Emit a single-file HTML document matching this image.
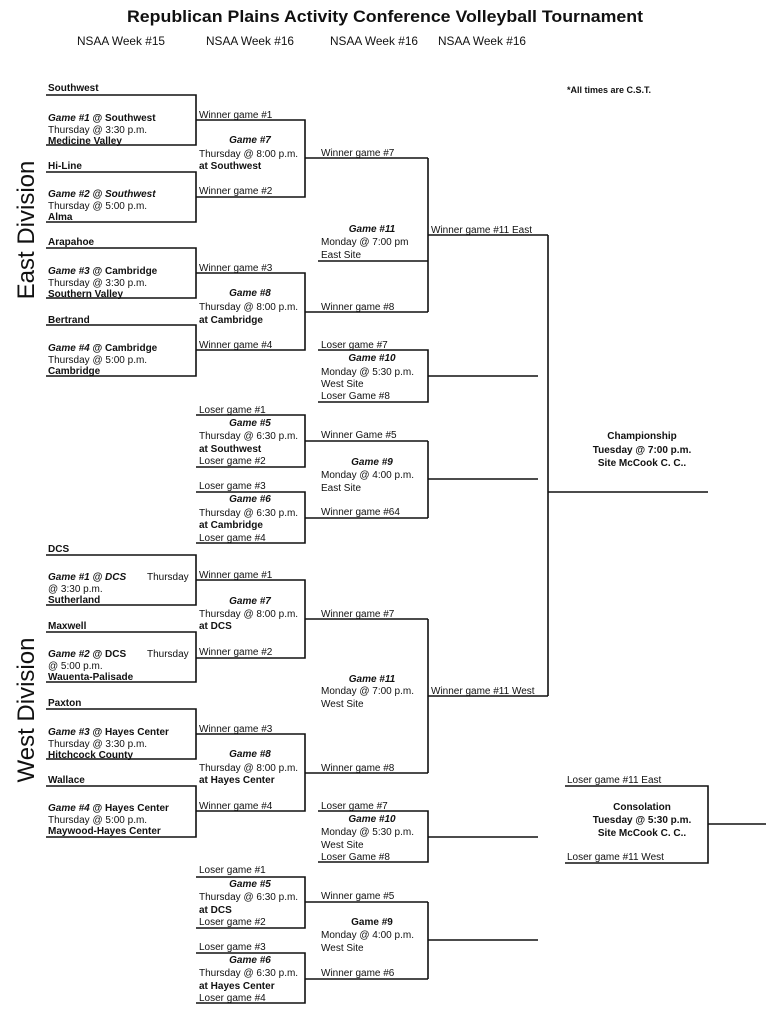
<!DOCTYPE html>
<html><head><meta charset="utf-8"><style>
html,body{margin:0;padding:0;background:#fff;}
svg{display:block;}
text{font-family:"Liberation Sans",Arial,sans-serif;font-size:10px;fill:#111;}
.b{font-weight:bold;}
.bi{font-weight:bold;font-style:italic;}
.c{text-anchor:middle;}
</style></head><body>
<svg width="776" height="1024" viewBox="0 0 776 1024" xmlns="http://www.w3.org/2000/svg">
<g fill="none" stroke="#111" stroke-width="1.6">
<!-- East -->
<path d="M46 95 H196 V145 H46"/>
<path d="M46 172 H196 V222 H46"/>
<path d="M46 248 H196 V298 H46"/>
<path d="M46 325 H196 V376 H46"/>
<path d="M196 120 H305 V197 H196 M305 158 H428"/>
<path d="M196 273 H305 V350 H196 M305 312 H428"/>
<path d="M428 158 V312 M318 261 H428 M428 235 H548"/>
<path d="M318 350 H428 V402 H318 M428 376 H538"/>
<path d="M196 415 H305 V467 H196 M305 441 H428"/>
<path d="M196 492 H305 V543 H196 M305 518 H428 M428 441 V518 M428 479 H538"/>
<path d="M548 235 V696 M548 492 H708"/>
<!-- West -->
<path d="M46 555 H196 V605 H46"/>
<path d="M46 632 H196 V682 H46"/>
<path d="M46 709 H196 V759 H46"/>
<path d="M46 786 H196 V837 H46"/>
<path d="M196 580 H305 V658 H196 M305 619 H428"/>
<path d="M196 734 H305 V811 H196 M305 773 H428"/>
<path d="M428 619 V773 M428 696 H548"/>
<path d="M318 811 H428 V862 H318 M428 837 H538"/>
<path d="M196 877 H305 V928 H196 M305 902 H428"/>
<path d="M196 953 H305 V1003 H196 M305 979 H428 M428 902 V979 M428 940 H538"/>
<path d="M565 786 H708 V863 H565 M708 824 H766"/>
</g>

<text x="385" y="22" class="b c" style="font-size:17px" textLength="516" lengthAdjust="spacingAndGlyphs">Republican Plains Activity Conference Volleyball Tournament</text>
<text x="77" y="45" style="font-size:12px" textLength="88" lengthAdjust="spacingAndGlyphs">NSAA Week #15</text>
<text x="206" y="45" style="font-size:12px" textLength="88" lengthAdjust="spacingAndGlyphs">NSAA Week #16</text>
<text x="330" y="45" style="font-size:12px" textLength="88" lengthAdjust="spacingAndGlyphs">NSAA Week #16</text>
<text x="438" y="45" style="font-size:12px" textLength="88" lengthAdjust="spacingAndGlyphs">NSAA Week #16</text>
<text x="567" y="93" class="b" style="font-size:9px">*All times are C.S.T.</text>

<text transform="translate(34,230) rotate(-90)" class="c" style="font-size:24px">East Division</text>
<text transform="translate(34,710) rotate(-90)" class="c" style="font-size:24px">West Division</text>

<!-- East R1 -->
<text x="48" y="91" class="b">Southwest</text>
<text x="48" y="121"><tspan class="bi">Game #1</tspan><tspan class="b"> @ Southwest</tspan></text>
<text x="48" y="133">Thursday @ 3:30 p.m.</text>
<text x="48" y="144" class="b">Medicine Valley</text>
<text x="48" y="169" class="b">Hi-Line</text>
<text x="48" y="197" class="bi">Game #2 @ Southwest</text>
<text x="48" y="209">Thursday @ 5:00 p.m.</text>
<text x="48" y="220" class="b">Alma</text>
<text x="48" y="245" class="b">Arapahoe</text>
<text x="48" y="274"><tspan class="bi">Game #3</tspan><tspan class="b">  @ Cambridge</tspan></text>
<text x="48" y="286">Thursday @ 3:30 p.m.</text>
<text x="48" y="297" class="b">Southern Valley</text>
<text x="48" y="323" class="b">Bertrand</text>
<text x="48" y="351"><tspan class="bi">Game #4</tspan><tspan class="b">  @ Cambridge</tspan></text>
<text x="48" y="363">Thursday @ 5:00 p.m.</text>
<text x="48" y="374" class="b">Cambridge</text>
<!-- East R2 -->
<text x="199" y="118">Winner game #1</text>
<text x="250" y="143" class="bi c">Game #7</text>
<text x="199" y="157">Thursday @ 8:00 p.m.</text>
<text x="199" y="169" class="b">at Southwest</text>
<text x="199" y="194">Winner game #2</text>
<text x="199" y="271">Winner game #3</text>
<text x="250" y="296" class="bi c">Game #8</text>
<text x="199" y="310">Thursday @ 8:00 p.m.</text>
<text x="199" y="323" class="b">at Cambridge</text>
<text x="199" y="348">Winner game #4</text>
<text x="199" y="413">Loser game #1</text>
<text x="250" y="426" class="bi c">Game #5</text>
<text x="199" y="439">Thursday @ 6:30 p.m.</text>
<text x="199" y="452" class="b">at Southwest</text>
<text x="199" y="464">Loser game #2</text>
<text x="199" y="489">Loser game #3</text>
<text x="250" y="502" class="bi c">Game #6</text>
<text x="199" y="516">Thursday @ 6:30 p.m.</text>
<text x="199" y="528" class="b">at Cambridge</text>
<text x="199" y="541">Loser game #4</text>
<!-- East R3 -->
<text x="321" y="156">Winner game #7</text>
<text x="372" y="232" class="bi c">Game #11</text>
<text x="321" y="245">Monday @ 7:00 pm</text>
<text x="321" y="258">East Site</text>
<text x="321" y="310">Winner game #8</text>
<text x="321" y="348">Loser game #7</text>
<text x="372" y="361" class="bi c">Game #10</text>
<text x="321" y="375">Monday @ 5:30 p.m.</text>
<text x="321" y="387">West Site</text>
<text x="321" y="399">Loser Game #8</text>
<text x="321" y="438">Winner Game #5</text>
<text x="372" y="465" class="bi c">Game #9</text>
<text x="321" y="478">Monday @ 4:00 p.m.</text>
<text x="321" y="491">East Site</text>
<text x="321" y="515">Winner game #64</text>
<text x="431" y="233">Winner game #11 East</text>
<text x="642" y="439" class="b c">Championship</text>
<text x="642" y="453" class="b c">Tuesday @ 7:00 p.m.</text>
<text x="642" y="466" class="b c">Site McCook C. C..</text>

<!-- West R1 -->
<text x="48" y="552" class="b">DCS</text>
<text x="48" y="580"><tspan class="bi">Game #1 @ DCS</tspan><tspan x="147">Thursday</tspan></text>
<text x="48" y="592">@ 3:30 p.m.</text>
<text x="48" y="603" class="b">Sutherland</text>
<text x="48" y="629" class="b">Maxwell</text>
<text x="48" y="657"><tspan class="bi">Game #2</tspan><tspan class="b"> @ DCS</tspan><tspan x="147">Thursday</tspan></text>
<text x="48" y="669">@ 5:00 p.m.</text>
<text x="48" y="680" class="b">Wauenta-Palisade</text>
<text x="48" y="706" class="b">Paxton</text>
<text x="48" y="735"><tspan class="bi">Game #3</tspan><tspan class="b"> @ Hayes Center</tspan></text>
<text x="48" y="747">Thursday @ 3:30 p.m.</text>
<text x="48" y="758" class="b">Hitchcock County</text>
<text x="48" y="783" class="b">Wallace</text>
<text x="48" y="811"><tspan class="bi">Game #4</tspan><tspan class="b"> @ Hayes Center</tspan></text>
<text x="48" y="823">Thursday @ 5:00 p.m.</text>
<text x="48" y="834" class="b">Maywood-Hayes Center</text>
<!-- West R2 -->
<text x="199" y="578">Winner game #1</text>
<text x="250" y="604" class="bi c">Game #7</text>
<text x="199" y="617">Thursday @ 8:00 p.m.</text>
<text x="199" y="629" class="b">at DCS</text>
<text x="199" y="655">Winner game #2</text>
<text x="199" y="732">Winner game #3</text>
<text x="250" y="757" class="bi c">Game #8</text>
<text x="199" y="771">Thursday @ 8:00 p.m.</text>
<text x="199" y="783" class="b">at Hayes Center</text>
<text x="199" y="809">Winner game #4</text>
<text x="199" y="873">Loser game #1</text>
<text x="250" y="887" class="bi c">Game #5</text>
<text x="199" y="900">Thursday @ 6:30 p.m.</text>
<text x="199" y="913" class="b">at DCS</text>
<text x="199" y="925">Loser game #2</text>
<text x="199" y="950">Loser game #3</text>
<text x="250" y="963" class="bi c">Game #6</text>
<text x="199" y="976">Thursday @ 6:30 p.m.</text>
<text x="199" y="989" class="b">at Hayes Center</text>
<text x="199" y="1001">Loser game #4</text>
<!-- West R3 -->
<text x="321" y="617">Winner game #7</text>
<text x="372" y="682" class="bi c">Game #11</text>
<text x="321" y="694">Monday @ 7:00 p.m.</text>
<text x="321" y="707">West Site</text>
<text x="321" y="771">Winner game #8</text>
<text x="321" y="809">Loser game #7</text>
<text x="372" y="822" class="bi c">Game #10</text>
<text x="321" y="835">Monday @ 5:30 p.m.</text>
<text x="321" y="848">West Site</text>
<text x="321" y="860">Loser Game #8</text>
<text x="321" y="899">Winner game #5</text>
<text x="372" y="925" class="b c">Game #9</text>
<text x="321" y="938">Monday @ 4:00 p.m.</text>
<text x="321" y="951">West Site</text>
<text x="321" y="976">Winner game #6</text>
<text x="431" y="694">Winner game #11 West</text>
<text x="567" y="783">Loser game #11 East</text>
<text x="642" y="810" class="b c">Consolation</text>
<text x="642" y="823" class="b c">Tuesday @ 5:30 p.m.</text>
<text x="642" y="836" class="b c">Site McCook C. C..</text>
<text x="567" y="860">Loser game #11 West</text>
</svg>
</body></html>
